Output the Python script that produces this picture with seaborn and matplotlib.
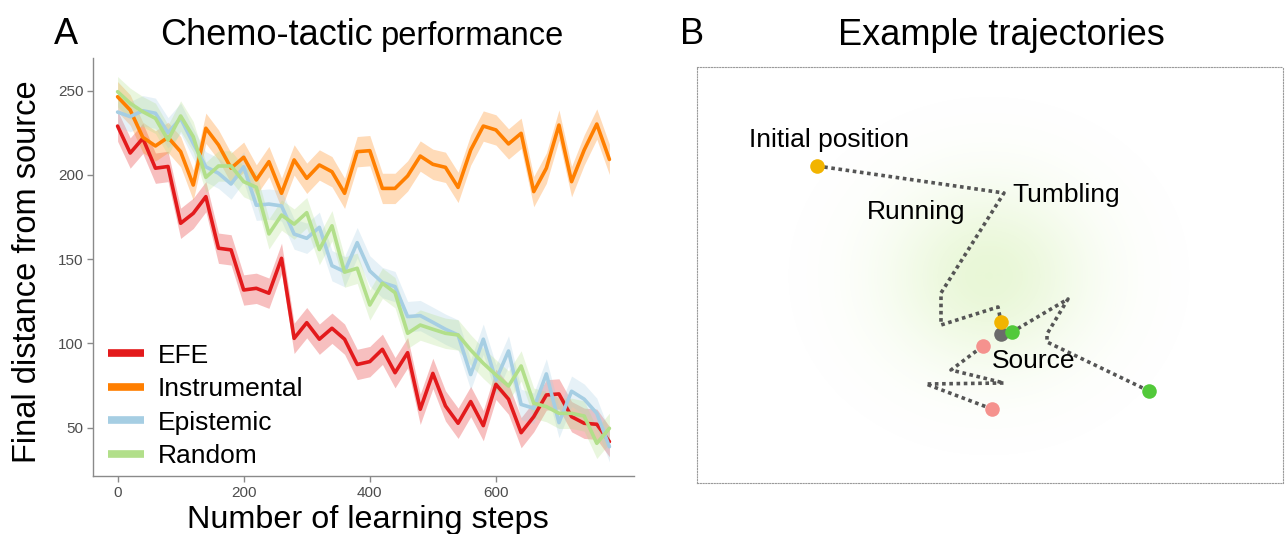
import numpy as np
import pandas as pd
import matplotlib
matplotlib.use("Agg")
import matplotlib.pyplot as plt
from matplotlib.lines import Line2D
import seaborn as sns

# ---------------- data: panel A ----------------
steps = [0, 20, 40, 60, 80, 100, 120, 140, 160, 180,
         200, 220, 240, 260, 280, 300, 320, 340, 360, 380,
         400, 420, 440, 460, 480, 500, 520, 540, 560, 580,
         600, 620, 640, 660, 680, 700, 720, 740, 760, 780]

efe = [229, 213, 221.7, 204, 205, 171.3, 177.2, 187.1, 156.5, 155.5,
       131.7, 132.7, 129.8, 150.5, 103, 112.3, 102.5, 109, 102.5, 87.5,
       89.2, 96.5, 82.6, 94.5, 60.9, 82.2, 62.9, 52.6, 65.5, 51.2,
       75.7, 66.9, 47, 56.5, 69.4, 70, 56.5, 52.6, 52, 41.7]
instrumental = [246.4, 238.5, 222.3, 217.2, 222.3, 213.8, 194, 227.7, 217.8, 204,
                210.5, 197, 207.9, 189.1, 208.9, 198, 205.9, 201.9, 189.1, 213.8,
                214.4, 192, 192, 199.4, 211.2, 206.3, 204.5, 192.6, 214.8, 229,
                226.7, 218.4, 224.7, 190.1, 204, 229.6, 196, 214.8, 230.2, 209.2]
epistemic = [237.3, 234.6, 238.1, 236.6, 225, 233.6, 218.7, 204.8, 201, 194.6,
             204.8, 182, 182.7, 181.6, 164.9, 162.4, 168.9, 146.1, 142.6, 159.8,
             143, 136.1, 133.7, 115.9, 116.5, 112.5, 108.4, 105, 81.5, 102.5,
             78.3, 95.5, 63.8, 61.5, 81.9, 53, 71.6, 66.9, 58.5, 38.7]
random_walk = [249.4, 242.5, 237.5, 233.6, 220.7, 235, 222.7, 198.6, 205.3, 205.3,
               196, 192.7, 165, 176.2, 170.8, 177.6, 155.7, 169.8, 142.3, 144.6,
               122.8, 135.7, 130.1, 106, 110.9, 108.4, 106, 105, 96.1, 88.2,
               81.3, 74.7, 86.6, 64.5, 62.5, 58.5, 58.5, 56.9, 40.7, 49.6]

strategies = ["EFE", "Instrumental", "Epistemic", "Random"]
band_halfwidth = [9, 9, 9, 9]
colors = ["#E31A1C", "#FF7F00", "#A6CEE3", "#B2DF8A"]

# ---------------- data: panel B (positions relative to the source) ----------------
yellow_x = [-184, 3, -60, -60, -3, 0]
yellow_y = [168, 141, 41, 9, 27, 12]
green_x = [148, 46, 46, 67, 11]
green_y = [-57, -8, 0, 35, 2]
pink_x = [-9, -75, 3, -50, -18]
pink_y = [-75, -50, -49, -36, -12]
source_xy = (0, 0)

traj_labels = ["Initial position", "Tumbling", "Running", "Source"]
traj_label_x = [-252, 11, -134, -9.5]
traj_label_y = [186.7, 132.3, 114.7, -34.3]

# ---------------- style ----------------
sns.set_theme(style="ticks")
plt.rcParams["font.family"] = ["Liberation Sans", "DejaVu Sans"]
plt.rcParams["text.color"] = "black"

W, H = 1286, 534
fig = plt.figure(figsize=(W / 100, H / 100), dpi=100)
fig.patch.set_facecolor("white")

def fx(px):
    return px / W

def fy(py):
    return 1 - py / H

# ---------------- panel A ----------------
axA = fig.add_axes([fx(93), fy(476), fx(634) - fx(93), fy(58) - fy(476)])

series = [efe, instrumental, epistemic, random_walk]
df = pd.DataFrame({
    "step": steps * 4,
    "distance": efe + instrumental + epistemic + random_walk,
    "strategy": sum([[s] * len(steps) for s in strategies], []),
})
palette = dict(zip(strategies, colors))

for vals, col, hw in zip(series, colors, band_halfwidth):
    v = np.asarray(vals, dtype=float)
    axA.fill_between(steps, v - hw, v + hw, color=col, alpha=0.28, lw=0, zorder=1)

sns.lineplot(data=df, x="step", y="distance", hue="strategy", hue_order=strategies,
             palette=palette, linewidth=2.6, ax=axA, legend=False, zorder=2)

axA.set_xlim(-39, 819)
axA.set_ylim(21.3, 269.4)
axA.set_xticks([0, 200, 400, 600])
axA.set_yticks([50, 100, 150, 200, 250])
axA.set_xlabel("")
axA.set_ylabel("")
sns.despine(ax=axA)
for side in ["left", "bottom"]:
    axA.spines[side].set_color("#8a8a8a")
    axA.spines[side].set_linewidth(1.0)
axA.tick_params(axis="both", length=4, width=1, color="#8a8a8a",
                labelcolor="#4d4d4d", labelsize=11, pad=3)

handles = [Line2D([0], [0], color=c, lw=5.5, solid_capstyle="butt") for c in colors]
axA.legend(handles, strategies, loc="lower left", bbox_to_anchor=(0.0277, 0.019),
           frameon=False, fontsize=19, handlelength=1.35, handletextpad=0.55,
           labelspacing=0.36, borderpad=0.0, borderaxespad=0.0)

fig.text(fx(27.5), fy(272), "Final distance from source", rotation=90,
         ha="center", va="center", fontsize=23.5, color="black")
fig.text(fx(367.5), fy(528), "Number of learning steps", ha="center",
         va="baseline", fontsize=23.3, color="black")

# panel headings
fig.text(fx(54), fy(44), "A", fontsize=26, va="baseline", ha="left")
t1 = fig.text(fx(160), fy(45), "Chemo-tactic", fontsize=26, va="baseline", ha="left")
fig.canvas.draw()
bb = t1.get_window_extent(renderer=fig.canvas.get_renderer())
fig.text(fx(bb.x1 + 8), fy(45), "performance", fontsize=23.5, va="baseline", ha="left")

fig.text(fx(680), fy(44), "B", fontsize=26, va="baseline", ha="left")
fig.text(fx(838), fy(45), "Example trajectories", fontsize=26, va="baseline", ha="left")

# ---------------- panel B ----------------
axB = fig.add_axes([fx(697), fy(483), fx(1283) - fx(697), fy(67) - fy(483)])
xl, yl = (-304, 282), (-149, 267)
axB.set_xlim(*xl)
axB.set_ylim(*yl)

# soft attractant glow around the source region
gx = np.linspace(xl[0], xl[1], 600)
gy = np.linspace(yl[0], yl[1], 430)
GX, GY = np.meshgrid(gx, gy)
r2 = ((GX + 12) / 190.0) ** 2 + ((GY - 58) / 170.0) ** 2
glow = np.zeros(GX.shape + (4,))
glow[..., 0], glow[..., 1], glow[..., 2] = 0.60, 0.86, 0.28
glow[..., 3] = 0.22 * np.exp(-3.6 * r2)
axB.imshow(glow, extent=[xl[0], xl[1], yl[0], yl[1]], origin="lower",
           aspect="auto", zorder=0, interpolation="bilinear")

dot_style = dict(ls=(0, (1, 1)), lw=2.6, color="#555555", dash_capstyle="butt", zorder=2)
axB.plot(yellow_x, yellow_y, **dot_style)
axB.plot(green_x, green_y, **dot_style)
axB.plot(pink_x, pink_y, **dot_style)

axB.scatter([source_xy[0]], [source_xy[1]], s=110, color="#6b6b6b", lw=0, zorder=3)
axB.scatter([yellow_x[0], yellow_x[-1]], [yellow_y[0], yellow_y[-1]], s=110,
            color="#F2B400", lw=0, zorder=4)
axB.scatter([green_x[0], green_x[-1]], [green_y[0], green_y[-1]], s=110,
            color="#52C93A", lw=0, zorder=4)
axB.scatter([pink_x[0], pink_x[-1]], [pink_y[0], pink_y[-1]], s=110,
            color="#F5928E", lw=0, zorder=4)

for lab, x, y in zip(traj_labels, traj_label_x, traj_label_y):
    axB.text(x, y, lab, fontsize=19, ha="left", va="baseline", color="black", zorder=5)

axB.set_xticks([])
axB.set_yticks([])
for sp in axB.spines.values():
    sp.set_linestyle((0, (1, 1.5)))
    sp.set_color("#9a9a9a")
    sp.set_linewidth(0.8)

fig.savefig("out.png", dpi=100, facecolor="white")
